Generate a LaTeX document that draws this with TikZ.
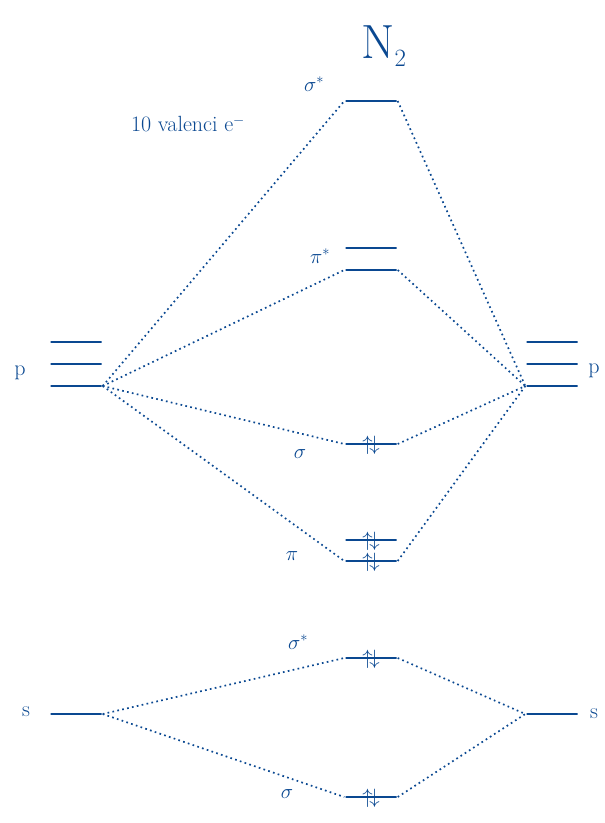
\documentclass[tikz,border=0pt]{standalone}
\usepackage{amsmath, amssymb}
\usepackage{tikz}
\usetikzlibrary{positioning}
\usepackage{xcolor}
\definecolor{penblue}{RGB}{10, 72, 145}

\begin{document}
\begin{tikzpicture}[
  x=1pt, y=-1pt,
  level/.style={rectangle, draw=penblue, line width=2.4pt, minimum width=51pt,
               minimum height=0pt, inner sep=0pt},
  link/.style={penblue, line width=1.7pt, dash pattern=on 1.7pt off 3.3pt},
  elec/.style={text=penblue, font=\fontsize{20}{21}\selectfont, inner sep=0pt},
  lab/.style={text=penblue, font=\fontsize{22}{24}\selectfont}
]
  \useasboundingbox (0,0) rectangle (605,823);

  % atomic levels
  \node[level] (lp1) at (76,342) {};
  \node[level] (lp2) at (76,364) {};
  \node[level] (lp3) at (76,386) {};
  \node[level] (rp1) at (552,342) {};
  \node[level] (rp2) at (552,364) {};
  \node[level] (rp3) at (552,386) {};
  \node[level] (ls) at (76,714) {};
  \node[level] (rs) at (552,714) {};

  % molecular levels
  \node[level] (sgpx) at (371,101) {};
  \node[level] (pipxa) at (371,248) {};
  \node[level] (pipxb) at (371,270) {};
  \node[level] (sgp) at (371,444) {};
  \node[level] (pipa) at (371,540) {};
  \node[level] (pipb) at (371,561) {};
  \node[level] (sgsx) at (371,658) {};
  \node[level] (sgs) at (371,797) {};

  % correlation lines
  \foreach \m in {sgpx, pipxb, sgp, pipb} {
    \draw[link] (lp3.east) -- (\m.west);
    \draw[link] (\m.east) -- (rp3.west);
  }
  \foreach \m in {sgsx, sgs} {
    \draw[link] (ls.east) -- (\m.west);
    \draw[link] (\m.east) -- (rs.west);
  }

  % electrons
  \foreach \m in {sgp, pipa, pipb, sgsx, sgs}
    \node[elec] at ([yshift=-1pt]\m) {$\uparrow\!\downarrow$};

  % labels
  \node[text=penblue, font=\fontsize{48}{52}\selectfont] (title) at (384,46) {N$_2$};
  \node[lab] (count) at (188,124) {10 valenci e$^{-}$};
  \node[lab] (lsgpx) at (314,84) {$\sigma^*$};
  \node[lab] (lpipx) at (320,256) {$\pi^*$};
  \node[lab] (lsgp) at (300,454) {$\sigma$};
  \node[lab] (lpip) at (292,556) {$\pi$};
  \node[lab] (lsgsx) at (298,642) {$\sigma^*$};
  \node[lab] (lsgs) at (287,794) {$\sigma$};
  \node[lab] (lpl) at (20,373) {p};
  \node[lab] (lpr) at (594,371) {p};
  \node[lab] (lsl) at (26,712) {s};
  \node[lab] (lsr) at (594,714) {s};
\end{tikzpicture}
\end{document}
